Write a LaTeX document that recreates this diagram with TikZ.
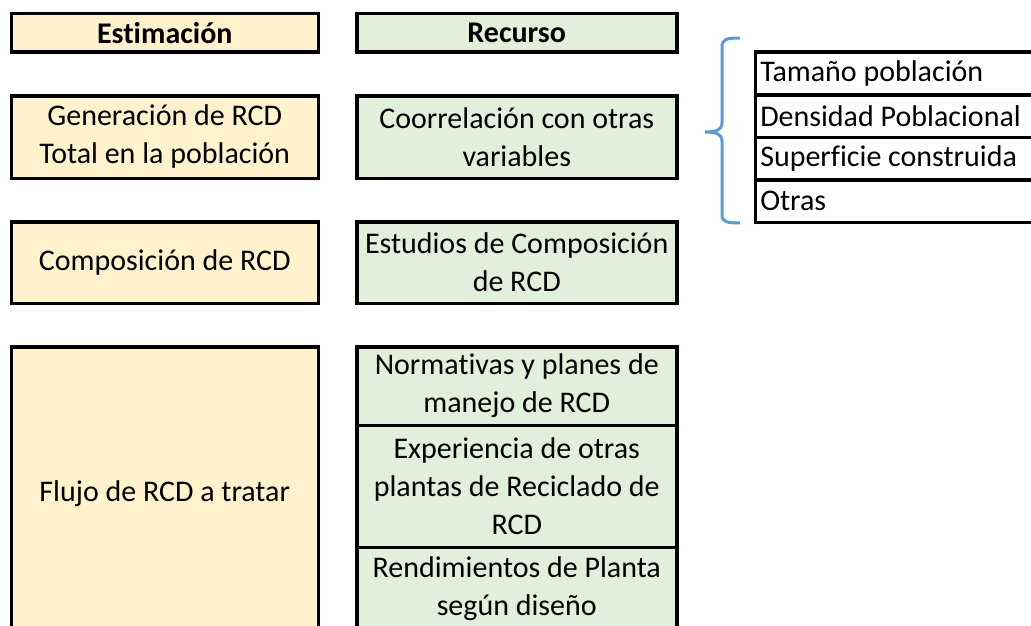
\documentclass[tikz,border=0pt]{standalone}
\usepackage{fontspec}
\setmainfont{Carlito}[Ligatures=NoCommon]
\usepackage{tikz}
\usetikzlibrary{positioning}
\definecolor{estfill}{HTML}{FFF2CC}
\definecolor{recfill}{HTML}{E2EFDA}
\definecolor{bracecol}{HTML}{5B9BD5}
\begin{document}
\begin{tikzpicture}[x=1pt,y=-1pt,node distance=40pt and 35pt,
  every node/.style={font=\fontsize{30}{38}\selectfont},
  cell/.style={draw,line width=3.5pt,align=center,inner sep=2pt},
  est/.style={cell,fill=estfill,minimum width=307pt},
  rec/.style={cell,fill=recfill,minimum width=320pt},
  var/.style={draw,line width=3.5pt,align=flush left,text width=270pt,inner xsep=5pt,inner ysep=0pt,minimum height=42.5pt},
  brace/.style={draw=bracecol,line width=3pt}]
\useasboundingbox (0,0) rectangle (1031,626);
\clip (0,0) rectangle (1031,626);
% columna de estimacion y de recursos
\node[est,minimum height=38.5pt] (est) at (164.75,33) {\textbf{Estimación}};
\node[rec,minimum height=38.5pt,right=of est] (rec) {\textbf{Recurso}};
\node[est,minimum height=82.5pt,below=of est] (gen) {Generación de RCD\\Total en la población};
\node[rec,minimum height=82.5pt,right=of gen] (corr) {Coorrelación con otras\\variables};
\node[est,minimum height=81.5pt,below=of gen] (comp) {Composición de RCD};
\node[rec,minimum height=81.5pt,right=of comp] (estu) {Estudios de Composición\\de RCD};
\node[est,minimum height=294.5pt,below=of comp] (flujo) {Flujo de RCD a tratar};
\node[rec,minimum height=78.5pt,anchor=north] (norm) at (flujo.north -| estu) {Normativas y planes de\\manejo de RCD};
\node[rec,minimum height=122pt,below=-3.5pt of norm] (exper) {Experiencia de otras\\plantas de Reciclado de\\RCD};
\node[rec,minimum height=82pt,below=-3.5pt of exper] (rend) {Rendimientos de Planta\\según diseño};
% variables de correlacion
\node[var,anchor=north west] (tam) at (753.5,50.5) {Tamaño población};
\node[var,below=-3.5pt of tam] (dens) {Densidad Poblacional};
\node[var,below=-3.5pt of dens] (sup) {Superficie construida};
\node[var,below=-3.5pt of sup] (otr) {Otras};
% llave
\draw[brace] (740,38) .. controls (727,38) and (722,39) .. (722,47) -- (722,123)
  .. controls (722,130) and (716,132) .. (705,132) .. controls (716,132) and (722,134) .. (722,141)
  -- (722,215) .. controls (722,222) and (727,223) .. (740,223);
\end{tikzpicture}
\end{document}
